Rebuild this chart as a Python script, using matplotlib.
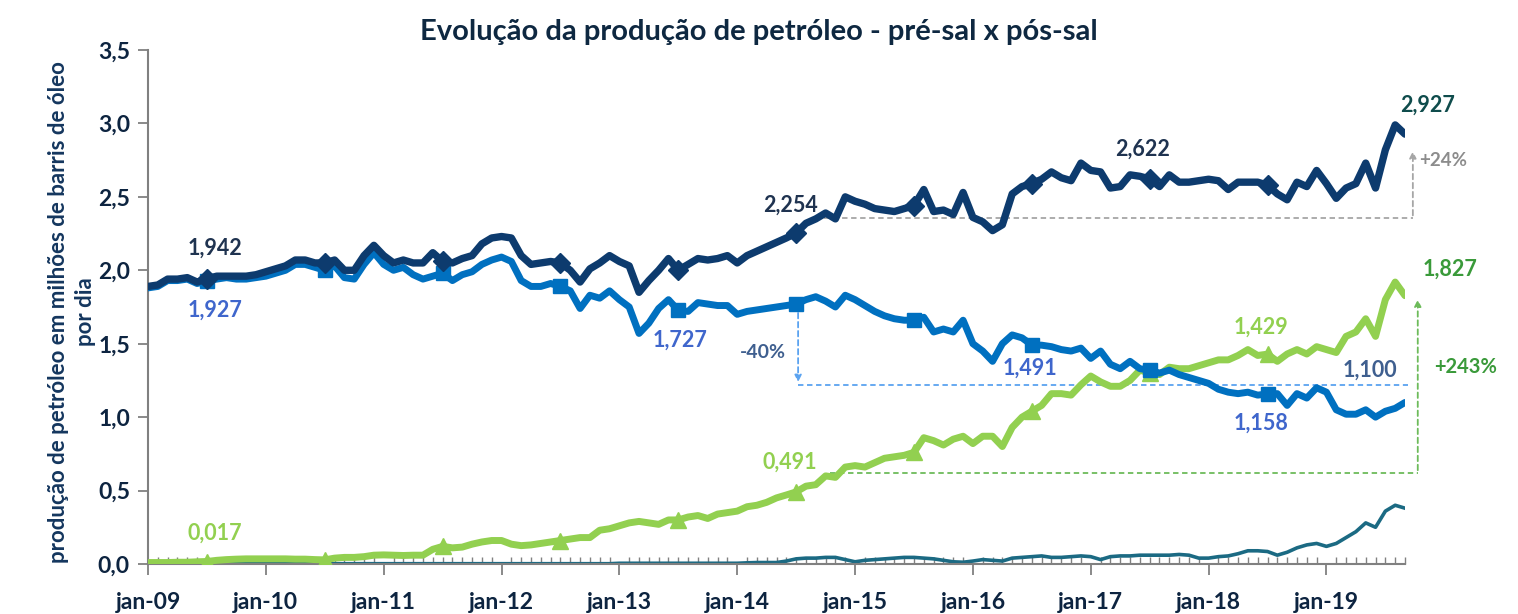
import matplotlib
matplotlib.use("Agg")
import matplotlib.pyplot as plt

plt.rcParams['font.family'] = ['Lato', 'DejaVu Sans']

# months from jan-09 to sep-19 (index 0..128)
years = ['09', '10', '11', '12', '13', '14', '15', '16', '17', '18', '19']

total = [
    1.89, 1.90, 1.94, 1.94, 1.95, 1.92, 1.942, 1.96, 1.96, 1.96, 1.96, 1.97,
    1.99, 2.01, 2.03, 2.07, 2.07, 2.05, 2.05, 2.07, 2.00, 2.00, 2.10, 2.17,
    2.10, 2.05, 2.07, 2.05, 2.05, 2.12, 2.06, 2.05, 2.08, 2.10, 2.18, 2.22,
    2.23, 2.22, 2.10, 2.04, 2.05, 2.06, 2.05, 2.00, 1.92, 2.01, 2.05, 2.10,
    2.06, 2.03, 1.85, 1.93, 2.00, 2.08, 2.00, 2.04, 2.08, 2.07, 2.08, 2.10,
    2.05, 2.10, 2.13, 2.16, 2.19, 2.22, 2.254, 2.32, 2.35, 2.39, 2.35, 2.50,
    2.47, 2.45, 2.42, 2.41, 2.40, 2.42, 2.44, 2.55, 2.40, 2.41, 2.38, 2.53,
    2.36, 2.33, 2.27, 2.31, 2.52, 2.57, 2.59, 2.62, 2.67, 2.63, 2.61, 2.73,
    2.68, 2.67, 2.56, 2.57, 2.65, 2.64, 2.622, 2.57, 2.65, 2.60, 2.60, 2.61,
    2.62, 2.61, 2.55, 2.60, 2.60, 2.60, 2.58, 2.52, 2.48, 2.60, 2.57, 2.68,
    2.59, 2.49, 2.56, 2.59, 2.73, 2.56, 2.82, 2.99, 2.927,
]

pos_sal = [
    1.88, 1.89, 1.93, 1.93, 1.94, 1.91, 1.927, 1.94, 1.95, 1.94, 1.94, 1.95,
    1.96, 1.98, 2.00, 2.04, 2.04, 2.02, 2.00, 2.03, 1.95, 1.94, 2.04, 2.12,
    2.04, 2.00, 2.02, 1.97, 1.94, 1.96, 1.98, 1.93, 1.97, 1.99, 2.04, 2.07,
    2.09, 2.06, 1.93, 1.89, 1.89, 1.91, 1.89, 1.86, 1.74, 1.83, 1.81, 1.86,
    1.80, 1.75, 1.57, 1.64, 1.74, 1.80, 1.727, 1.72, 1.78, 1.77, 1.76, 1.76,
    1.70, 1.72, 1.73, 1.74, 1.75, 1.76, 1.77, 1.80, 1.82, 1.79, 1.75, 1.83,
    1.80, 1.76, 1.72, 1.69, 1.67, 1.66, 1.66, 1.68, 1.58, 1.60, 1.58, 1.66,
    1.50, 1.45, 1.38, 1.50, 1.56, 1.54, 1.491, 1.49, 1.48, 1.46, 1.45, 1.47,
    1.40, 1.45, 1.36, 1.33, 1.38, 1.33, 1.32, 1.30, 1.32, 1.29, 1.27, 1.25,
    1.23, 1.19, 1.17, 1.16, 1.17, 1.15, 1.158, 1.16, 1.08, 1.16, 1.13, 1.20,
    1.17, 1.05, 1.02, 1.02, 1.05, 1.00, 1.04, 1.06, 1.100,
]

pre_sal = [
    0.010, 0.010, 0.010, 0.012, 0.012, 0.015, 0.017, 0.025, 0.030, 0.033, 0.035, 0.035,
    0.035, 0.035, 0.035, 0.033, 0.033, 0.030, 0.028, 0.040, 0.045, 0.045, 0.050, 0.060,
    0.062, 0.060, 0.058, 0.060, 0.060, 0.100, 0.120, 0.110, 0.115, 0.135, 0.150, 0.160,
    0.160, 0.135, 0.125, 0.130, 0.140, 0.150, 0.160, 0.170, 0.180, 0.180, 0.230, 0.240,
    0.260, 0.280, 0.290, 0.280, 0.270, 0.300, 0.300, 0.320, 0.330, 0.310, 0.340, 0.350,
    0.360, 0.390, 0.400, 0.420, 0.450, 0.470, 0.491, 0.530, 0.540, 0.600, 0.590, 0.660,
    0.670, 0.660, 0.690, 0.720, 0.730, 0.740, 0.760, 0.860, 0.840, 0.810, 0.850, 0.870,
    0.820, 0.870, 0.870, 0.800, 0.930, 1.000, 1.040, 1.080, 1.160, 1.160, 1.150, 1.220,
    1.280, 1.240, 1.210, 1.210, 1.250, 1.320, 1.300, 1.290, 1.340, 1.330, 1.330, 1.350,
    1.370, 1.390, 1.390, 1.420, 1.460, 1.420, 1.429, 1.380, 1.430, 1.460, 1.430, 1.480,
    1.460, 1.440, 1.550, 1.580, 1.670, 1.550, 1.800, 1.920, 1.827,
]

outros = [
    0.002] * 48 + [0.005] * 12 + [
    0.005, 0.008, 0.010, 0.010, 0.010, 0.020, 0.035, 0.040, 0.040, 0.045, 0.045, 0.030,
    0.015, 0.025, 0.030, 0.035, 0.040, 0.045, 0.045, 0.040, 0.035, 0.025, 0.015, 0.012,
    0.020, 0.030, 0.025, 0.020, 0.040, 0.045, 0.050, 0.055, 0.045, 0.045, 0.050, 0.055,
    0.050, 0.030, 0.050, 0.055, 0.055, 0.060, 0.060, 0.060, 0.060, 0.065, 0.060, 0.040,
    0.040, 0.050, 0.055, 0.070, 0.090, 0.090, 0.085, 0.060, 0.080, 0.110, 0.130, 0.140,
    0.120, 0.140, 0.180, 0.220, 0.280, 0.250, 0.360, 0.400, 0.380,
]

months = list(range(len(total)))
marks = list(range(6, 115, 12))

navy = '#0D3B6E'
blue = '#0070C0'
green = '#92D050'
teal = '#1B6A83'
tick_col = '#0D2440'
gray = '#808080'

fig = plt.figure(figsize=(15.18, 6.14), dpi=100)
ax = fig.add_axes([148 / 1518, 1 - 564 / 614, (1405 - 148) / 1518, (564 - 50) / 614])

ax.plot(months, outros, color=teal, lw=2.6, solid_joinstyle='round', zorder=2)
ax.plot(months, pre_sal, color=green, lw=5, marker='^', markersize=11,
        markevery=marks, solid_joinstyle='round', solid_capstyle='round', zorder=3)
ax.plot(months, pos_sal, color=blue, lw=5, marker='s', markersize=10,
        markevery=marks, solid_joinstyle='round', solid_capstyle='round', zorder=4)
ax.plot(months, total, color=navy, lw=5.3, marker='D', markersize=10,
        markevery=marks, solid_joinstyle='round', solid_capstyle='round', zorder=5)

ax.set_xlim(0, 128)
ax.set_ylim(0, 3.5)
ax.set_xticks(range(0, 129, 12))
ax.set_xticklabels(['jan-' + y for y in years])
ax.set_xticks(range(0, 129), minor=True)
ax.set_yticks([0, 0.5, 1, 1.5, 2, 2.5, 3, 3.5])
ax.set_yticklabels(['0,0', '0,5', '1,0', '1,5', '2,0', '2,5', '3,0', '3,5'])

for s in ['top', 'right']:
    ax.spines[s].set_visible(False)
for s in ['left', 'bottom']:
    ax.spines[s].set_color(gray)
    ax.spines[s].set_linewidth(1.5)
ax.tick_params(axis='x', which='major', direction='out', length=8, width=1.3,
               color=gray, pad=12, labelsize=16.5, labelcolor=tick_col)
ax.tick_params(axis='x', which='minor', direction='in', length=5, width=1,
               color=gray)
ax.tick_params(axis='y', which='major', direction='out', length=7, width=1.3,
               color=gray, pad=6, labelsize=16.5, labelcolor=tick_col)
for lab in ax.get_xticklabels() + ax.get_yticklabels():
    lab.set_fontweight('bold')

fig.text(0.5, 1 - 32 / 614, 'Evolução da produção de petróleo - pré-sal x pós-sal',
         ha='center', va='center', fontsize=21, fontweight='bold', color='#0E2841')
fig.text(72 / 1518, 1 - 312 / 614,
         'produção de petróleo em milhões de barris de óleo\npor dia',
         rotation=90, ha='center', va='center', multialignment='center',
         fontsize=16, fontweight='bold', color='#14365E', linespacing=1.3)

# value labels
labels = [
    (6.8, 2.15, '1,942', '#1F3350'),
    (6.8, 1.73, '1,927', '#3F66CC'),
    (6.8, 0.21, '0,017', green),
    (54.2, 1.525, '1,727', '#3F66CC'),
    (65.4, 2.44, '2,254', '#1F3350'),
    (65.4, 0.69, '0,491', green),
    (101.3, 2.825, '2,622', '#1F3350'),
    (89.8, 1.33, '1,491', '#3F66CC'),
    (113.3, 1.61, '1,429', green),
    (113.3, 0.96, '1,158', '#3F66CC'),
    (124.4, 1.32, '1,100', '#3F5F8F'),
    (130.3, 3.125, '2,927', '#0F4C4C'),
    (132.6, 2.01, '1,827', '#3A9A3A'),
]
for x, y, t, c in labels:
    ax.text(x, y, t, ha='center', va='center', fontsize=15.5, fontweight='bold',
            color=c, clip_on=False, zorder=6)

ax.text(62.6, 1.44, '-40%', ha='center', va='center', fontsize=14,
        fontweight='bold', color='#3F5F8F', clip_on=False)
ax.text(131.9, 2.75, '+24%', ha='center', va='center', fontsize=13.5,
        fontweight='bold', color='#8C8C8C', clip_on=False)
ax.text(134.2, 1.34, '+243%', ha='center', va='center', fontsize=14.5,
        fontweight='bold', color='#3A9A3A', clip_on=False)

# dashed guide lines with arrows
dash = dict(lw=1.3, ls=(0, (3, 2)), clip_on=False, zorder=1)
ax.plot([67.9, 128.8], [2.355, 2.355], color='#A6A6A6', **dash)
ax.annotate('', xy=(128.8, 2.83), xytext=(128.8, 2.355),
            arrowprops=dict(arrowstyle='-|>', color='#A6A6A6', lw=1.3,
                            ls=(0, (3, 2)), mutation_scale=10),
            annotation_clip=False)
ax.plot([66.2, 128.3], [1.22, 1.22], color='#5BA3F0', **dash)
ax.annotate('', xy=(66.2, 1.22), xytext=(66.2, 1.79),
            arrowprops=dict(arrowstyle='-|>', color='#5BA3F0', lw=1.3,
                            ls=(0, (3, 2)), mutation_scale=10),
            annotation_clip=False)
ax.plot([69.4, 129.3], [0.62, 0.62], color='#6DBB5A', **dash)
ax.annotate('', xy=(129.3, 1.82), xytext=(129.3, 0.62),
            arrowprops=dict(arrowstyle='-|>', color='#6DBB5A', lw=1.3,
                            ls=(0, (3, 2)), mutation_scale=10),
            annotation_clip=False)

fig.savefig('out.png', dpi=100)
